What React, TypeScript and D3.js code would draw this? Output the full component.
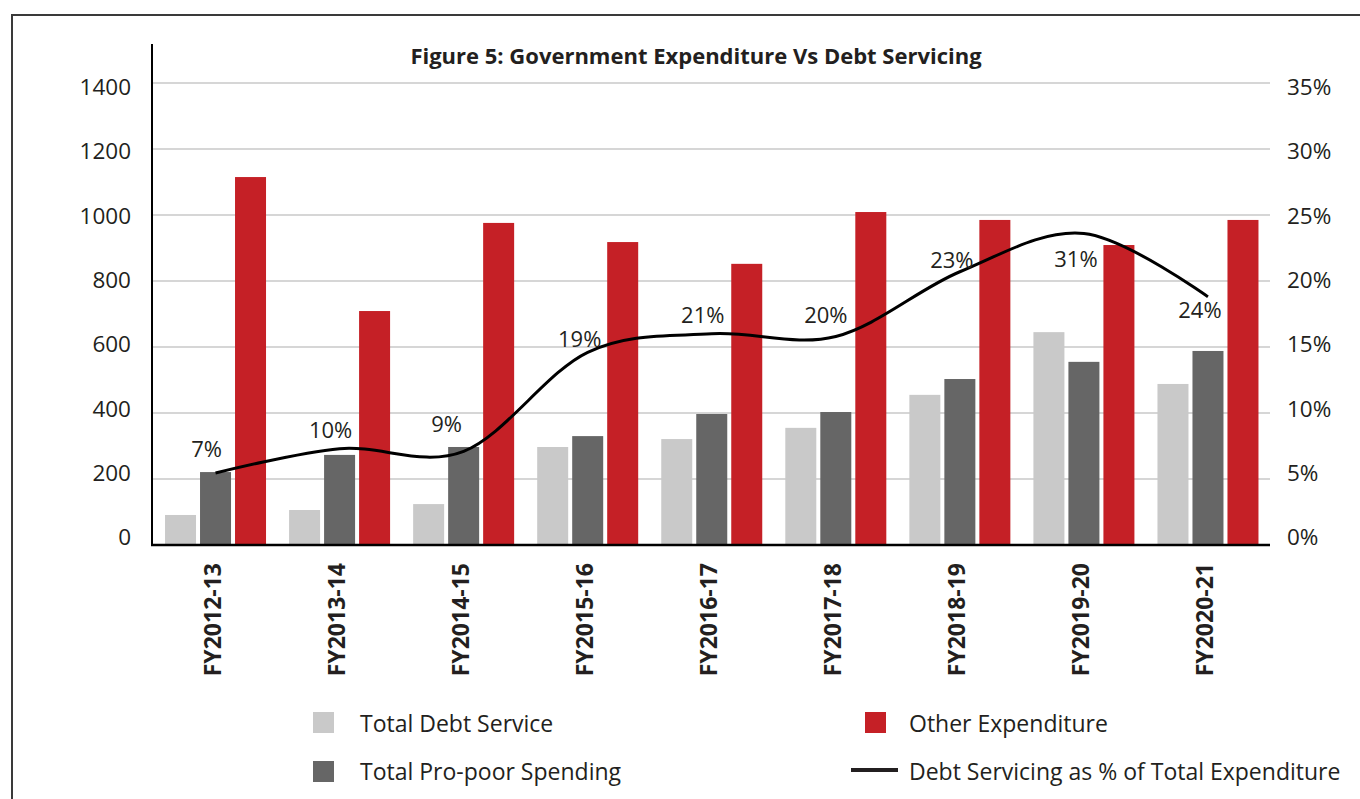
import React from "react";
import * as d3 from "d3";

const categories = ["FY2012-13","FY2013-14","FY2014-15","FY2015-16","FY2016-17","FY2017-18","FY2018-19","FY2019-20","FY2020-21"];
const totalDebtService = [91, 106, 124, 297, 321, 355, 455, 645, 488];
const totalProPoor = [221, 273, 297, 330, 397, 403, 503, 555, 588];
const otherExpenditure = [1115, 709, 976, 918, 852, 1009, 985, 909, 985];
const debtPct = [5.45, 7.3, 7.1, 14.6, 16.0, 15.8, 20.7, 23.6, 18.8];
const debtPctLabels = ["7%","10%","9%","19%","21%","20%","23%","31%","24%"];
const leftTicks = [0, 200, 400, 600, 800, 1000, 1200, 1400];
const rightTicks = [0, 5, 10, 15, 20, 25, 30, 35];
const seriesNames = ["Total Debt Service", "Total Pro-poor Spending", "Other Expenditure"];
const lineName = "Debt Servicing as % of Total Expenditure";
const title = "Figure 5: Government Expenditure Vs Debt Servicing";

// label offsets (layout, px) relative to each line point
const labelOffsets: [number, number][] = [[-9,-16],[-9,-11],[-17,-19],[-8,-5],[-9,-11],[-10,-13],[-8,-4],[-8,34],[-8,21]];

const colors = ["#c9c9c9", "#666666", "#c52026"];
const FONT = "'Open Sans', 'DejaVu Sans', sans-serif";

export default function App() {
  const left = 152, right = 1270, top = 83, bottom = 545;
  const x0 = d3.scaleBand<string>().domain(categories).range([153.5, 1270]);
  const bw = x0.bandwidth();
  const x1 = d3.scaleBand<number>().domain([0,1,2]).range([(bw-101)/2, (bw+101)/2]).paddingInner(4/35);
  const yL = d3.scaleLinear().domain([0, 1400]).range([bottom, top]);
  const yR = d3.scaleLinear().domain([0, 35]).range([bottom, top]);
  // tick-label placement (labels sit on a slightly compressed range, as in the source)
  const yLabL = d3.scaleLinear().domain([0, 1400]).range([537, 87]);
  const yLabR = d3.scaleLinear().domain([0, 35]).range([537, 87]);
  const series = [totalDebtService, totalProPoor, otherExpenditure];
  const cx = (c: string) => (x0(c) as number) + bw / 2;
  const pts: [number, number][] = categories.map((c, i) => [cx(c), yR(debtPct[i])]);
  const line = d3.line().curve(d3.curveCardinal.tension(0))(pts) as string;

  return (
    <svg width={1360} height={799} style={{ position: "absolute", left: 0, top: 0, background: "#fff" }} fontFamily={FONT}>
      <rect x={0} y={0} width={1360} height={799} fill="#fff" />
      <path d={`M12,799 L12,15 L1360,15`} fill="none" stroke="#3a3a3a" strokeWidth={2} />
      {leftTicks.filter(t => t > 0).map(t => (
        <line key={t} x1={left} x2={right} y1={yL(t)} y2={yL(t)} stroke="#c8c8c8" strokeWidth={1.5} />
      ))}
      {leftTicks.map(t => (
        <text key={t} x={131} y={yLabL(t)} dy="0.36em" textAnchor="end" fontSize={22.5} fill="#231f20">{t}</text>
      ))}
      {rightTicks.map(t => (
        <text key={t} x={1287} y={yLabR(t)} dy="0.36em" textAnchor="start" fontSize={22.5} fill="#231f20">{t + "%"}</text>
      ))}
      {categories.map((c, i) => (
        <g key={c} transform={`translate(${x0(c)},0)`}>
          {series.map((s, j) => (
            <rect key={j} x={x1(j)} y={yL(s[i])} width={x1.bandwidth()} height={bottom - yL(s[i])} fill={colors[j]} />
          ))}
        </g>
      ))}
      <line x1={left} x2={left} y1={44} y2={bottom + 1} stroke="#000" strokeWidth={2} />
      <line x1={left - 1} x2={right} y1={bottom} y2={bottom} stroke="#000" strokeWidth={2.5} />
      <path d={line} fill="none" stroke="#000" strokeWidth={3} />
      {debtPctLabels.map((l, i) => (
        <text key={i} x={pts[i][0] + labelOffsets[i][0]} y={pts[i][1] + labelOffsets[i][1]} textAnchor="middle" fontSize={22} fill="#231f20">{l}</text>
      ))}
      {categories.map(c => (
        <text key={c} transform={`translate(${cx(c) + 5},563) rotate(-90)`} textAnchor="end" fontSize={23} fontWeight="bold" fill="#231f20">{c}</text>
      ))}
      <text x={696} y={64} textAnchor="middle" fontSize={22} fontWeight="bold" fill="#231f20">{title}</text>
      {/* legend */}
      <rect x={313} y={712} width={21} height={21} fill={colors[0]} />
      <text x={360} y={732} fontSize={23} fill="#231f20">{seriesNames[0]}</text>
      <rect x={313} y={761} width={21} height={21} fill={colors[1]} />
      <text x={360} y={780} fontSize={23} fill="#231f20">{seriesNames[1]}</text>
      <rect x={865} y={712} width={21} height={21} fill={colors[2]} />
      <text x={909} y={732} fontSize={23} fill="#231f20">{seriesNames[2]}</text>
      <line x1={851} x2={898} y1={770} y2={770} stroke="#231f20" strokeWidth={4} />
      <text x={909} y={780} fontSize={23} fill="#231f20">{lineName}</text>
    </svg>
  );
}
